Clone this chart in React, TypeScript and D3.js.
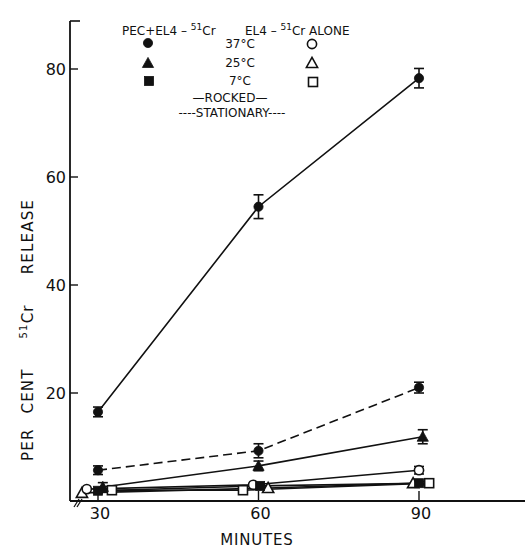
import React from "react";
import * as d3 from "d3";

const xTicks = [30, 60, 90];
const yTicks = [20, 40, 60, 80];

// PEC + EL4-51Cr
const rocked37Times = [30, 60, 90];
const rocked37Values = [16.5, 54.5, 78.3];
const rocked37Err = [0.9, 2.2, 1.8];

const stat37Times = [30, 60, 90];
const stat37Values = [5.7, 9.3, 21.0];
const stat37Err = [0.8, 1.3, 1.0];

const rocked25Times = [30.9, 60, 90.7];
const rocked25Values = [2.6, 6.5, 11.9];
const rocked25Err = [0.8, 0.9, 1.3];

const rocked7Times = [30, 60.3, 90];
const rocked7Values = [1.9, 2.8, 3.3];
const rocked7Err = [0.4, 0.3, 0.3];

// EL4-51Cr alone
const alone37Times = [27.9, 59, 90];
const alone37Values = [2.2, 3.0, 5.7];
const alone37Err = [0, 0, 0.7];

const alone25Times = [27, 61.8, 88.9];
const alone25Values = [1.5, 2.4, 3.3];

const alone7Times = [32.6, 57.1, 91.9];
const alone7Values = [2.0, 2.0, 3.3];

type Series = {
  times: number[];
  values: number[];
  err?: number[];
  marker: "circle" | "triangle" | "square";
  filled: boolean;
  dashed: boolean;
};

const series: Series[] = [
  { times: alone25Times, values: alone25Values, marker: "triangle", filled: false, dashed: false },
  { times: alone7Times, values: alone7Values, marker: "square", filled: false, dashed: false },
  { times: alone37Times, values: alone37Values, err: alone37Err, marker: "circle", filled: false, dashed: false },
  { times: rocked7Times, values: rocked7Values, err: rocked7Err, marker: "square", filled: true, dashed: false },
  { times: rocked25Times, values: rocked25Values, err: rocked25Err, marker: "triangle", filled: true, dashed: false },
  { times: stat37Times, values: stat37Values, err: stat37Err, marker: "circle", filled: true, dashed: true },
  { times: rocked37Times, values: rocked37Values, err: rocked37Err, marker: "circle", filled: true, dashed: false },
];

const FONT = "'DejaVu Sans', Verdana, sans-serif";

function Marker({ kind, filled, cx, cy }: { kind: string; filled: boolean; cx: number; cy: number }) {
  const fill = filled ? "#111" : "#fff";
  const sw = filled ? 0.8 : 1.6;
  if (kind === "circle") return <circle cx={cx} cy={cy} r={4.6} fill={fill} stroke="#111" strokeWidth={sw} />;
  if (kind === "square") return <rect x={cx - 4.5} y={cy - 4.5} width={9} height={9} fill={fill} stroke="#111" strokeWidth={sw} />;
  const s = 5.6;
  return (
    <path
      d={`M${cx},${cy - s} L${cx + s},${cy + s * 0.8} L${cx - s},${cy + s * 0.8} Z`}
      fill={fill}
      stroke="#111"
      strokeWidth={sw}
    />
  );
}

export default function App() {
  const x = d3.scaleLinear().domain([30, 90]).range([98, 419]);
  const y = d3.scaleLinear().domain([0, 80]).range([501, 69]);
  const x0 = 70;
  const y0 = 501;

  const line = d3
    .line<[number, number]>()
    .x((d) => x(d[0]))
    .y((d) => y(d[1]));

  return (
    <svg
      width={525}
      height={548}
      style={{ position: "absolute", left: 0, top: 0, background: "#fff" }}
      fontFamily={FONT}
    >
      {/* axes */}
      <line x1={x0} y1={21} x2={x0} y2={y0} stroke="#111" strokeWidth={1.8} />
      <line x1={x0} y1={21} x2={80} y2={21} stroke="#111" strokeWidth={1.6} />
      <line x1={x0} y1={y0} x2={525} y2={y0} stroke="#111" strokeWidth={1.8} />
      {/* axis break */}
      <line x1={74} y1={507} x2={79} y2={499} stroke="#111" strokeWidth={1.3} />
      <line x1={77} y1={507} x2={82} y2={499} stroke="#111" strokeWidth={1.3} />

      {yTicks.map((t) => (
        <g key={"y" + t}>
          <line x1={x0} x2={x0 + 8} y1={y(t)} y2={y(t)} stroke="#111" strokeWidth={1.4} />
          <text x={x0 - 4} y={y(t)} dy="0.36em" textAnchor="end" fontSize={16} fill="#111">
            {t}
          </text>
        </g>
      ))}
      {xTicks.map((t) => (
        <g key={"x" + t}>
          <line x1={x(t)} x2={x(t)} y1={y0} y2={y0 - 10} stroke="#111" strokeWidth={1.4} />
          <text x={x(t) + 2} y={519} textAnchor="middle" fontSize={16} fill="#111">
            {t}
          </text>
        </g>
      ))}

      <text x={257} y={545} textAnchor="middle" fontSize={15} fill="#111" letterSpacing={0.8}>
        MINUTES
      </text>
      <text
        transform="translate(33,330) rotate(-90)"
        textAnchor="middle"
        fontSize={15}
        fill="#111"
        letterSpacing={1.2}
        wordSpacing={9}
        style={{ whiteSpace: "pre" }}
      >
        PER CENT{"  "}
        <tspan fontSize={10} dy={-6}>
          51
        </tspan>
        <tspan dy={6}>Cr{"  "}RELEASE</tspan>
      </text>

      {/* lines */}
      {series.map((s, i) => (
        <path
          key={"l" + i}
          d={line(s.times.map((t, j) => [t, s.values[j]] as [number, number])) || ""}
          fill="none"
          stroke="#111"
          strokeWidth={1.6}
          strokeDasharray={s.dashed ? "9,5" : undefined}
        />
      ))}

      {/* error bars */}
      {series.map((s, i) =>
        s.err
          ? s.times.map((t, j) => {
              const e = s.err![j];
              if (!e) return null;
              const cx = x(t);
              return (
                <g key={"e" + i + "-" + j} stroke="#111" strokeWidth={1.6}>
                  <line x1={cx} x2={cx} y1={y(s.values[j] - e)} y2={y(s.values[j] + e)} />
                  <line x1={cx - 5} x2={cx + 5} y1={y(s.values[j] + e)} y2={y(s.values[j] + e)} />
                  <line x1={cx - 5} x2={cx + 5} y1={y(s.values[j] - e)} y2={y(s.values[j] - e)} />
                </g>
              );
            })
          : null
      )}

      {/* markers */}
      {series.map((s, i) =>
        s.times.map((t, j) => (
          <Marker key={"m" + i + "-" + j} kind={s.marker} filled={s.filled} cx={x(t)} cy={y(s.values[j])} />
        ))
      )}

      {/* legend */}
      <g fontSize={12} fill="#111">
        <text x={122} y={35}>
          PEC+EL4 – <tspan fontSize={9} dy={-5}>51</tspan>
          <tspan dy={5}>Cr</tspan>
        </text>
        <text x={245} y={35}>
          EL4 – <tspan fontSize={9} dy={-5}>51</tspan>
          <tspan dy={5}>Cr ALONE</tspan>
        </text>
        <text x={240} y={44} dy="0.36em" textAnchor="middle">37°C</text>
        <text x={240} y={63} dy="0.36em" textAnchor="middle">25°C</text>
        <text x={240} y={81} dy="0.36em" textAnchor="middle">7°C</text>
        <text x={230} y={98} dy="0.36em" textAnchor="middle">—ROCKED—</text>
        <text x={232} y={113} dy="0.36em" textAnchor="middle">----STATIONARY----</text>
      </g>
      <Marker kind="circle" filled={true} cx={148} cy={43} />
      <Marker kind="triangle" filled={true} cx={148} cy={63} />
      <Marker kind="square" filled={true} cx={149} cy={81} />
      <Marker kind="circle" filled={false} cx={312} cy={44} />
      <Marker kind="triangle" filled={false} cx={312} cy={63} />
      <Marker kind="square" filled={false} cx={313} cy={82} />
    </svg>
  );
}
